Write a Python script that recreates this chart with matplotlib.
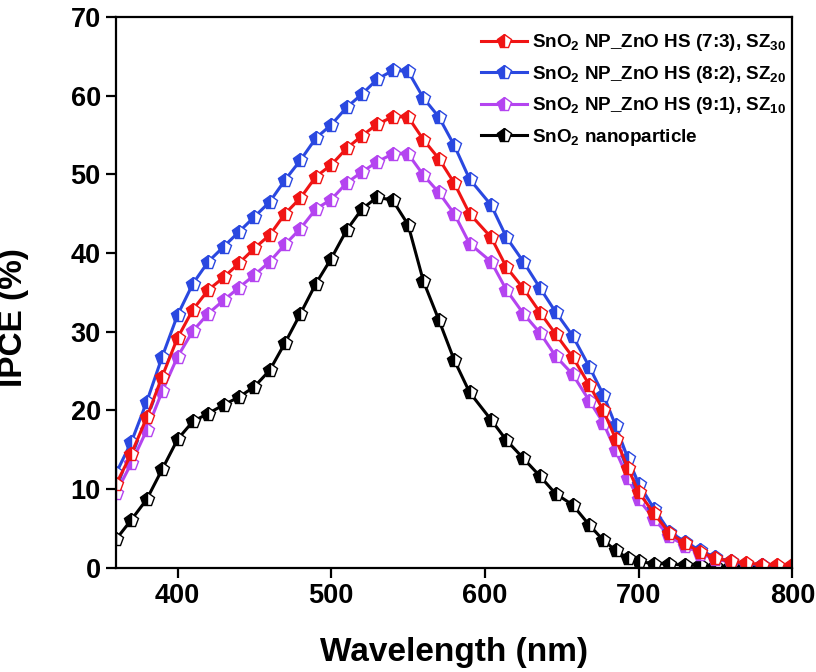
import matplotlib
matplotlib.use("Agg")
import matplotlib.pyplot as plt

plt.rcParams['font.family'] = ['Liberation Sans', 'DejaVu Sans']
plt.rcParams['font.weight'] = 'bold'
plt.rcParams['mathtext.fontset'] = 'custom'
plt.rcParams['mathtext.rm'] = 'Liberation Sans:bold'
plt.rcParams['mathtext.it'] = 'Liberation Sans:bold'
plt.rcParams['mathtext.bf'] = 'Liberation Sans:bold'

wavelength = [360, 370, 380, 390, 400, 410, 420, 430, 440, 450, 460, 470,
              480, 490, 500, 510, 520, 530, 540, 550, 560, 570, 580, 590,
              604, 614, 625, 636, 646, 657, 668, 677, 685, 693, 700,
              710, 720, 730, 740, 750, 760, 770, 780, 790, 800]

sz30 = [10.6, 14.5, 19.1, 24.3, 29.2, 32.8, 35.3, 36.9, 38.7, 40.6, 42.3, 45.0,
        47.0, 49.7, 51.2, 53.3, 54.9, 56.4, 57.3, 57.3, 54.4, 52.0, 48.9, 45.0,
        42.0, 38.2, 35.5, 32.4, 29.7, 26.8, 23.2, 20.0, 16.4, 12.7, 9.6,
        6.9, 4.4, 3.1, 2.0, 1.2, 0.8, 0.6, 0.4, 0.3, 0.3]

sz20 = [12.0, 16.0, 21.1, 26.8, 32.1, 36.1, 38.9, 40.8, 42.7, 44.6, 46.5, 49.3,
        51.8, 54.6, 56.3, 58.5, 60.2, 62.1, 63.2, 63.1, 59.7, 57.3, 53.7, 49.4,
        46.1, 42.0, 38.9, 35.5, 32.5, 29.5, 25.5, 22.0, 18.1, 13.9, 10.7,
        7.5, 4.6, 3.3, 2.2, 1.3, 0.8, 0.5, 0.3, 0.2, 0.1]

sz10 = [9.5, 13.3, 17.5, 22.4, 26.8, 30.1, 32.3, 34.0, 35.6, 37.2, 38.9, 41.1,
        43.1, 45.6, 46.8, 48.9, 50.3, 51.6, 52.6, 52.6, 49.9, 47.7, 45.0, 41.2,
        38.9, 35.3, 32.3, 29.8, 26.9, 24.6, 21.2, 18.4, 14.9, 11.4, 8.7,
        6.2, 4.0, 2.8, 1.8, 1.1, 0.7, 0.5, 0.3, 0.2, 0.2]

sno2 = [3.6, 6.1, 8.7, 12.5, 16.3, 18.6, 19.6, 20.7, 21.7, 23.0, 25.1, 28.6,
        32.3, 36.1, 39.3, 42.9, 45.6, 47.1, 46.7, 43.6, 36.4, 31.5, 26.4, 22.3,
        18.8, 16.2, 13.9, 11.6, 9.4, 8.0, 5.4, 3.5, 2.2, 1.2, 0.8,
        0.5, 0.5, 0.3, 0.3, 0.2, 0.2, 0.2, 0.2, 0.2, 0.2]

labels = [r'SnO$_{2}$ NP_ZnO HS (7:3), SZ$_{30}$',
          r'SnO$_{2}$ NP_ZnO HS (8:2), SZ$_{20}$',
          r'SnO$_{2}$ NP_ZnO HS (9:1), SZ$_{10}$',
          r'SnO$_{2}$ nanoparticle']
colors = ['#f01414', '#2a48e0', '#b444f0', '#000000']
series = [sz30, sz20, sz10, sno2]

fig = plt.figure(figsize=(8.16, 6.72), dpi=100)
ax = fig.add_axes([0.1422, 0.1552, 0.8288, 0.8195])

handles = [None] * 4
for idx in [3, 2, 1, 0]:
    h, = ax.plot(wavelength, series[idx], color=colors[idx], lw=2.2,
                 marker='p', markersize=10, fillstyle='left',
                 markerfacecolor=colors[idx], markerfacecoloralt='white',
                 markeredgecolor=colors[idx], markeredgewidth=1.0,
                 label=labels[idx])
    handles[idx] = h

ax.set_xlim(360, 800)
ax.set_ylim(0, 70)
ax.set_xticks([400, 500, 600, 700, 800])
ax.set_yticks([0, 10, 20, 30, 40, 50, 60, 70])
for s in ax.spines.values():
    s.set_linewidth(1.6)
ax.tick_params(axis='both', direction='out', length=7, width=1.6,
               labelsize=19.5, pad=4)
ax.tick_params(top=False, right=False)
for t in ax.get_xticklabels() + ax.get_yticklabels():
    t.set_fontweight('bold')

ax.set_xlabel('Wavelength (nm)', fontsize=24, fontweight='bold', labelpad=20)
ax.set_ylabel('IPCE (%)', fontsize=24, fontweight='bold')
ax.yaxis.set_label_coords(-0.128, 0.455)

leg = ax.legend(handles=handles, loc='upper left', bbox_to_anchor=(0.540, 0.972),
                frameon=False, fontsize=13.6, borderpad=0, borderaxespad=0,
                handlelength=2.4, handletextpad=0.3, labelspacing=0.55)
for t in leg.get_texts():
    t.set_fontweight('bold')

fig.savefig('out.png', dpi=100)
